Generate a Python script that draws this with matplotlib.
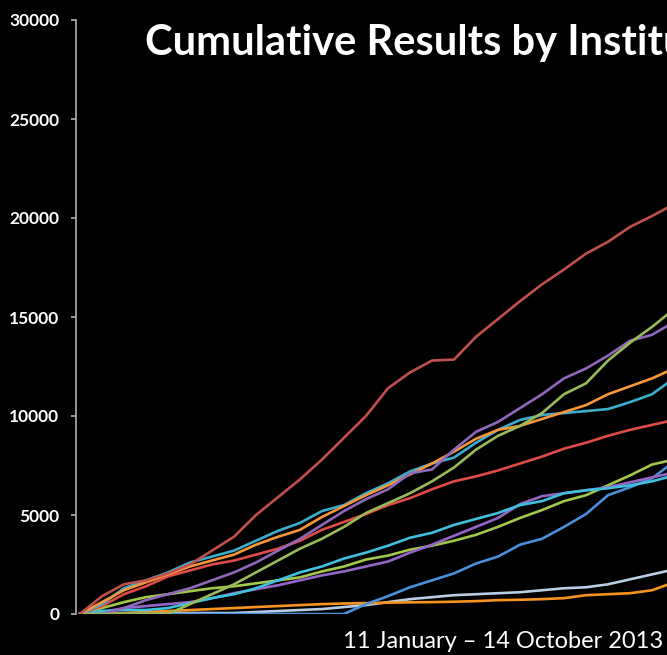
"""Cumulative results by institution, 11 Jan - 14 Oct 2013 (cropped view)."""

import matplotlib
matplotlib.use("Agg")
import matplotlib.pyplot as plt

# week index since 11 January
WEEKS = list(range(28))

RED_TOP = [0, 900, 1500, 1700, 2050, 2500, 3200, 3900, 5000, 5900,
           6800, 7800, 8900, 10000, 11400, 12200, 12800, 12850, 14000, 14900,
           15800, 16650, 17400, 18200, 18800, 19550, 20100, 20700]
GREEN_TOP = [0, 0, 0, 0, 0, 500, 1000, 1500, 2100, 2700,
             3300, 3800, 4400, 5100, 5600, 6100, 6700, 7400, 8300, 9000,
             9500, 10150, 11100, 11650, 12800, 13700, 14500, 15400]
PURPLE_TOP = [0, 0, 300, 700, 1000, 1300, 1700, 2100, 2600, 3200,
              3800, 4500, 5200, 5800, 6300, 7100, 7300, 8300, 9200, 9700,
              10400, 11100, 11900, 12400, 13050, 13800, 14100, 14750]
ORANGE_TOP = [0, 600, 1200, 1600, 2000, 2400, 2700, 3000, 3500, 3900,
              4250, 4900, 5450, 6000, 6500, 7050, 7600, 8200, 8850, 9300,
              9500, 9850, 10200, 10550, 11100, 11500, 11900, 12400]
CYAN_TOP = [0, 500, 1300, 1700, 2100, 2600, 2900, 3200, 3700, 4200,
            4600, 5200, 5500, 6100, 6600, 7200, 7600, 7900, 8650, 9300,
            9800, 10050, 10150, 10250, 10350, 10700, 11100, 11900]
RED_MID = [0, 400, 1000, 1400, 1900, 2200, 2500, 2700, 3000, 3300,
           3700, 4250, 4650, 5050, 5500, 5850, 6300, 6700, 6950, 7250,
           7600, 7950, 8350, 8650, 9000, 9300, 9550, 9800]
GREEN_LOW = [0, 300, 600, 850, 1000, 1150, 1300, 1400, 1550, 1700,
             1850, 2150, 2400, 2750, 2950, 3250, 3450, 3700, 4000, 4400,
             4850, 5250, 5700, 6000, 6500, 7000, 7550, 7800]
PURPLE_LOW = [0, 100, 300, 400, 500, 600, 800, 1050, 1250, 1450,
              1700, 1950, 2150, 2400, 2650, 3100, 3500, 3950, 4400, 4850,
              5550, 5950, 6100, 6250, 6400, 6650, 6900, 7150]
CYAN_LOW = [0, 150, 200, 200, 300, 550, 800, 1000, 1300, 1700,
            2100, 2400, 2800, 3100, 3450, 3850, 4100, 4500, 4800, 5100,
            5500, 5700, 6100, 6250, 6350, 6500, 6700, 7000]
BLUE = [0, 0, 0, 0, 0, 0, 0, 0, 0, 0,
        0, 0, 0, 500, 900, 1350, 1700, 2050, 2550, 2900,
        3500, 3800, 4400, 5050, 6000, 6400, 6850, 7700]
LIGHT_BLUE = [0, 0, 0, 50, 50, 50, 50, 50, 100, 150,
              200, 250, 350, 450, 600, 750, 850, 950, 1000, 1050,
              1100, 1200, 1300, 1350, 1500, 1750, 2000, 2250]
ORANGE_LOW = [0, 0, 50, 100, 150, 200, 250, 300, 350, 400,
              450, 500, 530, 550, 570, 590, 600, 620, 650, 700,
              720, 750, 800, 950, 1000, 1050, 1200, 1600]

SERIES = [
    (LIGHT_BLUE, "#b9cde5"),
    (ORANGE_LOW, "#f7931e"),
    (BLUE, "#4a8fd9"),
    (GREEN_LOW, "#a2c84a"),
    (PURPLE_LOW, "#9566c8"),
    (CYAN_LOW, "#3ec0de"),
    (RED_MID, "#e04b48"),
    (CYAN_TOP, "#3aaecb"),
    (ORANGE_TOP, "#f7963a"),
    (PURPLE_TOP, "#8e68bb"),
    (GREEN_TOP, "#9bbb59"),
    (RED_TOP, "#c0504d"),
]

Y_TICKS = [0, 5000, 10000, 15000, 20000, 25000, 30000]


def main() -> None:
    fig = plt.figure(figsize=(6.67, 6.55), dpi=100, facecolor="black")
    ax = fig.add_axes([76 / 667, 41 / 655, 1 - 76 / 667, 594 / 655])
    ax.set_facecolor("black")

    for values, color in SERIES:
        ax.plot(WEEKS, values, color=color, lw=1.9, solid_joinstyle="round")

    ax.set_xlim(-0.18, 26.68)
    ax.set_ylim(0, 30000)
    ax.set_yticks(Y_TICKS)
    ax.set_yticklabels([str(t) for t in Y_TICKS], family="Lato",
                       fontweight="bold", fontsize=12.5, color="white")
    ax.set_xticks([])

    for side in ("top", "right", "bottom"):
        ax.spines[side].set_visible(False)
    ax.spines["left"].set_color("#b0b0b0")
    ax.spines["left"].set_linewidth(1.2)
    ax.tick_params(axis="y", direction="out", length=3.5, width=1.2,
                   color="#b0b0b0", pad=8.5)

    # the title runs off the right edge, as in the source slide
    fig.text(145 / 667, 1 - 55 / 655, "Cumulative Results by Institution",
             family="Lato", fontweight="bold", fontsize=30, color="white",
             ha="left", va="baseline")
    fig.text(343 / 667, 1 - 648 / 655, "11 January \u2013 14 October 2013",
             family="Lato", fontweight="normal", fontsize=17, color="white",
             ha="left", va="baseline")

    fig.savefig("out.png", dpi=100, facecolor="black")
    plt.close(fig)


if __name__ == "__main__":
    main()
